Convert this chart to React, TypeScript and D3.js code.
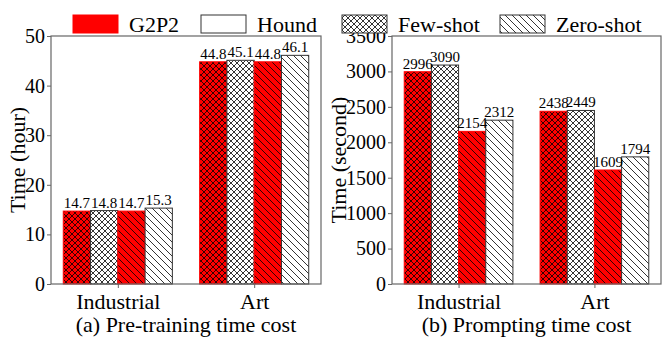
import React, { useRef, useEffect } from 'react';
import * as d3 from 'd3';

const categories = ['Industrial', 'Art'];
// bar order inside each group: G2P2 few-shot, Hound few-shot, G2P2 zero-shot, Hound zero-shot
const barKinds = [
  { method: 'G2P2', setting: 'Few-shot' },
  { method: 'Hound', setting: 'Few-shot' },
  { method: 'G2P2', setting: 'Zero-shot' },
  { method: 'Hound', setting: 'Zero-shot' },
];
const pretrainHours = [
  [14.7, 14.8, 14.7, 15.3],
  [44.8, 45.1, 44.8, 46.1],
];
const promptSeconds = [
  [2996, 3090, 2154, 2312],
  [2438, 2449, 1609, 1794],
];
const hourTicks = [0, 10, 20, 30, 40, 50];
const secondTicks = [0, 500, 1000, 1500, 2000, 2500, 3000, 3500];
const legendItems = [
  { label: 'G2P2', fill: 'red' },
  { label: 'Hound', fill: 'white' },
  { label: 'Few-shot', fill: 'url(#hatch-xx-white)' },
  { label: 'Zero-shot', fill: 'url(#hatch-bs-white)' },
];

const FONT = 'Liberation Serif, Times New Roman, DejaVu Serif, serif';

function barFill(kind) {
  const base = kind.method === 'G2P2' ? 'red' : 'white';
  const hatch = kind.setting === 'Few-shot' ? 'xx' : 'bs';
  return `url(#hatch-${hatch}-${base})`;
}

function App() {
  const svgRef = useRef(null);

  useEffect(() => {
    const width = 667;
    const height = 338;
    const svg = d3.select(svgRef.current);
    svg.selectAll('*').remove();
    svg.attr('width', width).attr('height', height)
      .attr('viewBox', [0, 0, width, height])
      .attr('font-family', FONT);

    // hatch patterns
    const defs = svg.append('defs');
    ['red', 'white'].forEach(base => {
      const xx = defs.append('pattern')
        .attr('id', `hatch-xx-${base}`)
        .attr('patternUnits', 'userSpaceOnUse')
        .attr('width', 6).attr('height', 6);
      xx.append('rect').attr('width', 6).attr('height', 6).attr('fill', base);
      xx.append('path')
        .attr('d', 'M0,0L6,6M6,0L0,6M-1,1L1,-1M5,7L7,5M-1,5L1,7M5,-1L7,1')
        .attr('stroke', '#000').attr('stroke-width', 0.8);

      const bs = defs.append('pattern')
        .attr('id', `hatch-bs-${base}`)
        .attr('patternUnits', 'userSpaceOnUse')
        .attr('width', 7).attr('height', 7);
      bs.append('rect').attr('width', 7).attr('height', 7).attr('fill', base);
      bs.append('path')
        .attr('d', 'M0,0L7,7M-1,6L1,8M6,-1L8,1')
        .attr('stroke', '#000').attr('stroke-width', 0.8);
    });

    const marginTop = 36;
    const plotBottom = 284;

    const panels = [
      { left: 51, right: 321, data: pretrainHours, max: 50, ticks: hourTicks,
        ylabel: 'Time (hour)', ylabelX: 17, caption: '(a) Pre-training time cost', fmt: d3.format('.1f') },
      { left: 392, right: 661, data: promptSeconds, max: 3500, ticks: secondTicks,
        ylabel: 'Time (second)', ylabelX: 338, caption: '(b) Prompting time cost', fmt: d3.format('d') },
    ];

    panels.forEach(p => {
      const x = d3.scaleLinear().domain([-0.49, 1.49]).range([p.left, p.right]);
      const y = d3.scaleLinear().domain([0, p.max]).range([plotBottom, marginTop]);
      const barW = x(0.2) - x(0);
      const offsets = [-0.3, -0.1, 0.1, 0.3];

      const flat = [];
      p.data.forEach((vals, ci) => {
        vals.forEach((v, bi) => flat.push({ ci, bi, v, kind: barKinds[bi] }));
      });

      const g = svg.append('g');

      g.selectAll('rect.bar')
        .data(flat)
        .join('rect')
        .attr('class', 'bar')
        .attr('x', d => x(d.ci + offsets[d.bi]) - barW / 2)
        .attr('y', d => y(d.v))
        .attr('width', barW)
        .attr('height', d => y(0) - y(d.v))
        .attr('fill', d => barFill(d.kind))
        .attr('stroke', d => d.kind.method === 'G2P2' ? 'red' : '#333')
        .attr('stroke-width', 1);

      g.selectAll('text.val')
        .data(flat)
        .join('text')
        .attr('class', 'val')
        .attr('x', d => x(d.ci + offsets[d.bi]))
        .attr('y', d => y(d.v) - 3)
        .attr('text-anchor', 'middle')
        .attr('font-size', '15px')
        .attr('font-family', FONT)
        .attr('fill', '#000')
        .text(d => p.fmt(d.v));

      // frame
      g.append('rect')
        .attr('x', p.left).attr('y', marginTop)
        .attr('width', p.right - p.left).attr('height', plotBottom - marginTop)
        .attr('fill', 'none').attr('stroke', '#666').attr('stroke-width', 1.2);

      const yAxis = g.append('g')
        .attr('transform', `translate(${p.left},0)`)
        .call(d3.axisLeft(y).tickValues(p.ticks).tickFormat(d3.format('d')).tickSize(4).tickPadding(2));
      yAxis.attr('font-family', FONT);
      yAxis.select('.domain').remove();
      yAxis.selectAll('line').attr('stroke', '#666');
      yAxis.selectAll('text').attr('font-size', '20px').attr('fill', '#000');

      const xAxis = g.append('g')
        .attr('transform', `translate(0,${plotBottom})`)
        .call(d3.axisBottom(x).tickValues([0, 1]).tickFormat(i => categories[i]).tickSize(4).tickPadding(5));
      xAxis.attr('font-family', FONT);
      xAxis.select('.domain').remove();
      xAxis.selectAll('line').attr('stroke', '#666');
      xAxis.selectAll('text').attr('font-size', '22px').attr('fill', '#000');

      g.append('text')
        .attr('transform', `translate(${p.ylabelX},${(marginTop + plotBottom) / 2}) rotate(-90)`)
        .attr('text-anchor', 'middle')
        .attr('dominant-baseline', 'central')
        .attr('font-size', '22px')
        .attr('font-family', FONT)
        .text(p.ylabel);

      g.append('text')
        .attr('x', (p.left + p.right) / 2)
        .attr('y', 332)
        .attr('text-anchor', 'middle')
        .attr('font-size', '22px')
        .attr('font-family', FONT)
        .text(p.caption);
    });

    // legend
    const legendX = [73, 201, 342, 500];
    const legend = svg.append('g');
    legendItems.forEach((item, i) => {
      legend.append('rect')
        .attr('x', legendX[i]).attr('y', 15)
        .attr('width', 45).attr('height', 18)
        .attr('fill', item.fill)
        .attr('stroke', i === 0 ? 'red' : '#333')
        .attr('stroke-width', 1);
      legend.append('text')
        .attr('x', legendX[i] + 56).attr('y', 32)
        .attr('font-size', '22px')
        .attr('font-family', FONT)
        .text(item.label);
    });
  }, []);

  return (
    <div style={{ position: 'absolute', left: 0, top: 0 }}>
      <svg ref={svgRef}></svg>
    </div>
  );
}

export default App;
